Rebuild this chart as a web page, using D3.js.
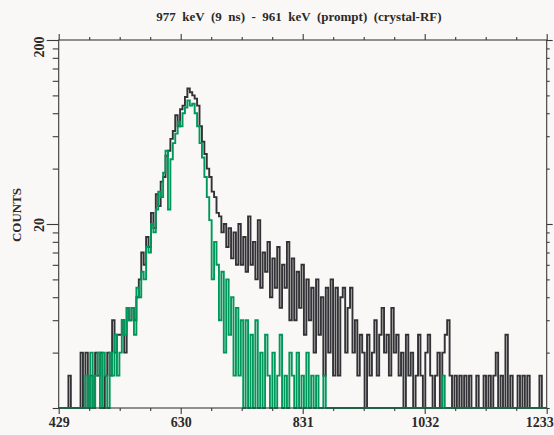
<!DOCTYPE html>
<html>
<head>
<meta charset="utf-8">
<script src="https://cdn.jsdelivr.net/npm/d3@7"></script>
<style>
  html, body { margin: 0; padding: 0; background: #f9f8f6; }
  svg { display: block; }
  text { font-family: "Liberation Serif", "DejaVu Serif", serif; font-weight: bold; fill: #2a2a2a; }
</style>
</head>
<body>
<svg id="chart" width="554" height="435"></svg>
<script>
// ---- data ----
const titleText = "977  keV  (9  ns)  -  961  keV  (prompt)  (crystal-RF)";
const yLabel = "COUNTS";
const binStart = 429;
const binWidth = 4;
const xMajorTicks = [429, 630, 831, 1032, 1233];
const yMajorTicks = [20, 200];
const yMinorTicks = [2, 4, 6, 8, 10, 12, 14, 16, 18, 40, 60, 80, 100, 120, 140, 160, 180];

const blackCounts = [
  0,0,0,0,3,0,0,0,0,4,
  1,4,0,3,0,4,3,4,2,3,
  4,3,6,4,5,5,6,4,7,6,
  7,6,8,10,14,12,17,15,23,19,
  29,25,34,36,47,50,58,64,78,68,
  84,88,98,109,104,100,96,88,68,56,
  48,40,36,30,28,23,22,18,20,15,
  19,13,18,12,20,12,17,11,22,12,
  16,10,21,9,14,11,16,8,13,9,
  15,7,12,9,16,6,13,6,11,7,
  12,5,10,6,9,4,10,5,8,3,
  9,4,10,3,9,3,8,9,4,7,
  9,4,6,3,5,4,2,5,3,4,
  6,3,5,7,4,5,3,7,4,5,
  3,4,2,5,3,4,2,3,5,3,
  2,4,5,3,2,3,4,2,4,5,
  6,3,2,3,1,3,2,3,1,3,
  2,0,3,1,2,3,0,3,2,3,
  4,1,3,2,5,0,3,1,0,3,
  2,3,0,3,1,0,0,0,3,0,0
];

const greenCounts = [
  0,0,0,0,0,0,0,0,0,0,
  0,3,0,4,2,3,4,2,4,3,
  2,4,3,5,3,4,6,5,7,6,
  7,5,9,8,11,10,15,14,20,18,
  24,30,28,38,50,24,45,55,62,72,
  68,80,86,94,88,90,80,68,55,46,
  36,28,21,10,16,12,6,11,4,10,
  5,8,3,7,3,6,0,6,0,5,
  2,6,0,4,0,5,3,0,4,0,
  3,5,0,3,0,4,3,0,4,0,
  3,0,4,0,3,0,3,0,0,3,
  0,0,0,0,0,0,0,0,0,0,
  0,0,0,0,0,0,0,0,0,0,
  0,0,0,0,0,0,0,0,0,0,
  0,0,0,0,0,0,0,0,0,0,
  0,0,0,0,0,0,0,0,3,0,
  0,0,0,0,0,0,0,0,0,0,
  0,0,0,0,0,0,0,0,0,0,
  0,0,0,0,0,0,0,0,0,0,
  0,0,0,0,0,0,0,0,0,0,0
];

// ---- layout ----
const svg = d3.select("#chart");
const L = 58.7, R = 546.7, T = 40, B = 408;
const axisColor = "#3a3a3a";

const x = d3.scaleLinear().domain([429, 1233]).range([L, R]);
const y = d3.scaleLog().domain([2, 200]).range([B, T]).clamp(true);

const xMinorTicks = [];
for (let k = 0; k < xMajorTicks.length - 1; k++) {
  const a = xMajorTicks[k], b = xMajorTicks[k + 1];
  for (let j = 1; j < 4; j++) xMinorTicks.push(a + (b - a) * j / 4);
}

function stepData(counts) {
  const pts = counts.map((v, i) => [binStart + i * binWidth, v]);
  pts.push([binStart + counts.length * binWidth, counts[counts.length - 1]]);
  return pts;
}
const line = d3.line()
  .x(d => x(Math.min(d[0], 1233)))
  .y(d => y(Math.max(d[1], 1)))
  .curve(d3.curveStepAfter);

const plot = svg.append("g");
plot.append("path").datum(stepData(blackCounts))
  .attr("d", line).attr("fill", "none")
  .attr("stroke", "#333236").attr("stroke-width", 1.9);
plot.append("path").datum(stepData(greenCounts))
  .attr("d", line).attr("fill", "none")
  .attr("stroke", "#00985a").attr("stroke-width", 1.9);

// frame
svg.append("rect").attr("x", L).attr("y", T).attr("width", R - L).attr("height", B - T)
  .attr("fill", "none").attr("stroke", axisColor).attr("stroke-width", 1.1);

function styleAxis(g) {
  g.select(".domain").remove();
  g.selectAll("line").attr("stroke", axisColor).attr("stroke-width", 1.1);
  g.selectAll("text").attr("fill", "#2a2a2a")
    .style("font-family", "'Liberation Serif', serif").style("font-weight", "bold");
}

// bottom
svg.append("g").attr("transform", `translate(0,${B})`)
  .call(d3.axisBottom(x).tickValues(xMajorTicks).tickSize(6).tickPadding(3).tickFormat(d3.format("d")))
  .call(styleAxis)
  .call(g => g.selectAll("text").style("font-size", "14px"))
  .call(g => g.selectAll(".tick").filter(d => d === 1233).select("text")
    .attr("text-anchor", "end").attr("x", 6.5));
svg.append("g").attr("transform", `translate(0,${B})`)
  .call(d3.axisBottom(x).tickValues(xMinorTicks).tickSize(3).tickFormat(""))
  .call(styleAxis);
// top
svg.append("g").attr("transform", `translate(0,${T})`)
  .call(d3.axisTop(x).tickValues(xMajorTicks).tickSize(6).tickFormat(""))
  .call(styleAxis);
svg.append("g").attr("transform", `translate(0,${T})`)
  .call(d3.axisTop(x).tickValues(xMinorTicks).tickSize(3).tickFormat(""))
  .call(styleAxis);
// left
svg.append("g").attr("transform", `translate(${L},0)`)
  .call(d3.axisLeft(y).tickValues(yMajorTicks).tickSize(12).tickFormat(""))
  .call(styleAxis);
svg.append("g").attr("transform", `translate(${L},0)`)
  .call(d3.axisLeft(y).tickValues(yMinorTicks).tickSize(6).tickFormat(""))
  .call(styleAxis);
// right
svg.append("g").attr("transform", `translate(${R},0)`)
  .call(d3.axisRight(y).tickValues(yMajorTicks).tickSize(6).tickFormat(""))
  .call(styleAxis);
svg.append("g").attr("transform", `translate(${R},0)`)
  .call(d3.axisRight(y).tickValues(yMinorTicks).tickSize(3).tickFormat(""))
  .call(styleAxis);

// left labels (rotated)
const yLabelPos = { 200: 47, 20: 225 };
yMajorTicks.forEach(v => {
  svg.append("text")
    .attr("transform", `translate(44,${yLabelPos[v]}) rotate(-90)`)
    .attr("text-anchor", "middle")
    .style("font-size", "14px")
    .text(v);
});

svg.append("text")
  .attr("transform", `translate(21,215) rotate(-90)`)
  .attr("text-anchor", "middle")
  .style("font-size", "13px")
  .text(yLabel);

svg.append("text")
  .attr("x", 299).attr("y", 21)
  .attr("text-anchor", "middle")
  .style("font-size", "13px")
  .style("white-space", "pre")
  .text(titleText);
</script>
</body>
</html>
